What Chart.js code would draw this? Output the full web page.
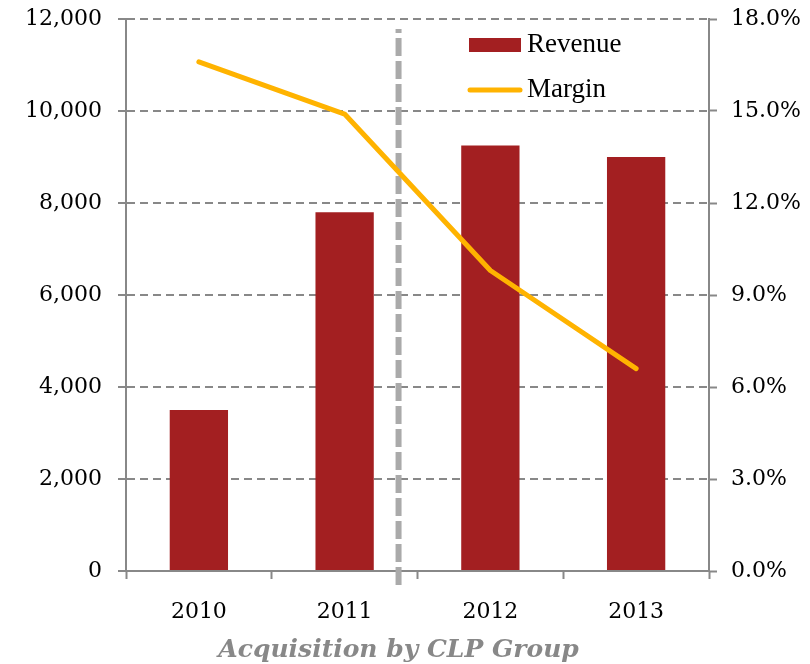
<!DOCTYPE html>
<html>
<head>
<meta charset="utf-8">
<script src="https://cdn.jsdelivr.net/npm/chart.js@4/dist/chart.umd.min.js"></script>
<style>
  html, body { margin: 0; padding: 0; background: #fff; }
  #wrap { width: 810px; height: 664px; position: relative; }
</style>
</head>
<body>
<div id="wrap"><canvas id="c" width="810" height="664"></canvas></div>
<script>
// Years on the category axis
const years = ['2010', '2011', '2012', '2013'];
// Revenue (left axis)
const revenue = [3500, 7800, 9250, 9000];
// Margin in percent (right axis)
const margin = [16.6, 14.9, 9.8, 6.6];
// Axis ranges
const revenueAxis = { min: 0, max: 12000, step: 2000 };
const marginAxis = { min: 0, max: 18, step: 3 };
// Where the acquisition happened, in category units (between 2011 and 2012)
const acquisitionAt = 1.37;
const acquisitionLabel = 'Acquisition by CLP Group';

const BAR = '#A31F21';
const LINE = '#FFB300';
const AXIS = '#888888';
const tickFont = { family: 'DejaVu Serif', size: 22 };

// fixed axis sizes, no extra room for overhanging labels
function fixSize(w, h) {
  return s => {
    if (w !== null) s.width = w;
    if (h !== null) s.height = h;
    s.paddingTop = 0; s.paddingBottom = 0; s.paddingLeft = 0; s.paddingRight = 0;
  };
}

const overlay = {
  id: 'overlay',
  beforeDatasetsDraw(chart) {
    const { ctx, chartArea, scales } = chart;
    const x = scales.x.getPixelForValue(acquisitionAt);
    ctx.save();
    ctx.strokeStyle = '#AAAAAA';
    ctx.lineWidth = 6;
    ctx.setLineDash([18, 5]);
    ctx.beginPath();
    ctx.moveTo(x, chartArea.bottom + 14);
    ctx.lineTo(x, chartArea.top + 10);
    ctx.stroke();
    ctx.restore();
  },
  afterDraw(chart) {
    const { ctx, chartArea, scales } = chart;
    const x = scales.x.getPixelForValue(acquisitionAt);
    ctx.save();
    // caption under the divider
    ctx.fillStyle = '#888888';
    ctx.font = 'italic bold 25px "DejaVu Serif"';
    ctx.textAlign = 'center';
    ctx.textBaseline = 'middle';
    ctx.fillText(acquisitionLabel, x, 650);

    // legend, top right inside the plot
    const lx = chartArea.left + 343;
    const ly = chartArea.top;
    ctx.fillStyle = BAR;
    ctx.fillRect(lx, ly + 19, 52, 14);
    ctx.strokeStyle = LINE;
    ctx.lineWidth = 5;
    ctx.lineCap = 'round';
    ctx.beginPath();
    ctx.moveTo(lx + 1, ly + 71);
    ctx.lineTo(lx + 51, ly + 71);
    ctx.stroke();
    ctx.fillStyle = '#000';
    ctx.font = '27px "Liberation Serif"';
    ctx.textAlign = 'left';
    ctx.fillText('Revenue', lx + 58, ly + 26);
    ctx.fillText('Margin', lx + 58, ly + 71);
    ctx.restore();
  }
};

new Chart(document.getElementById('c'), {
  data: {
    labels: years,
    datasets: [
      {
        type: 'line', label: 'Margin', data: margin, yAxisID: 'y1', order: 1,
        borderColor: LINE, borderWidth: 5, pointRadius: 0, tension: 0,
        borderCapStyle: 'round', borderJoinStyle: 'round', fill: false
      },
      {
        type: 'bar', label: 'Revenue', data: revenue, yAxisID: 'y', order: 2,
        backgroundColor: BAR, barPercentage: 0.4, categoryPercentage: 1
      }
    ]
  },
  options: {
    responsive: false,
    animation: false,
    layout: { padding: { top: 19, left: 0, right: 0, bottom: 0 } },
    plugins: { legend: { display: false }, tooltip: { enabled: false } },
    scales: {
      x: {
        offset: true,
        grid: { offset: true, drawOnChartArea: false, drawTicks: true, tickLength: 8, tickColor: AXIS, tickWidth: 2 },
        border: { color: AXIS, width: 2 },
        ticks: { font: tickFont, color: '#000', padding: 20 },
        afterFit: fixSize(null, 93)
      },
      y: {
        position: 'left', min: revenueAxis.min, max: revenueAxis.max,
        ticks: {
          stepSize: revenueAxis.step, font: tickFont, color: '#000', padding: 16,
          callback: v => v.toLocaleString('en-US')
        },
        grid: { color: AXIS, lineWidth: 2, tickLength: 8, tickColor: AXIS, tickWidth: 2, tickBorderDash: [] },
        border: { color: AXIS, width: 2, dash: [8, 5] },
        afterFit: fixSize(126, null)
      },
      y1: {
        position: 'right', min: marginAxis.min, max: marginAxis.max,
        ticks: {
          stepSize: marginAxis.step, font: tickFont, color: '#000', padding: 14,
          callback: v => v.toFixed(1) + '%'
        },
        grid: { drawOnChartArea: false, tickLength: 8, tickColor: AXIS, tickWidth: 2 },
        border: { color: AXIS, width: 2 },
        afterFit: fixSize(101, null)
      }
    }
  },
  plugins: [overlay]
});
</script>
</body>
</html>
